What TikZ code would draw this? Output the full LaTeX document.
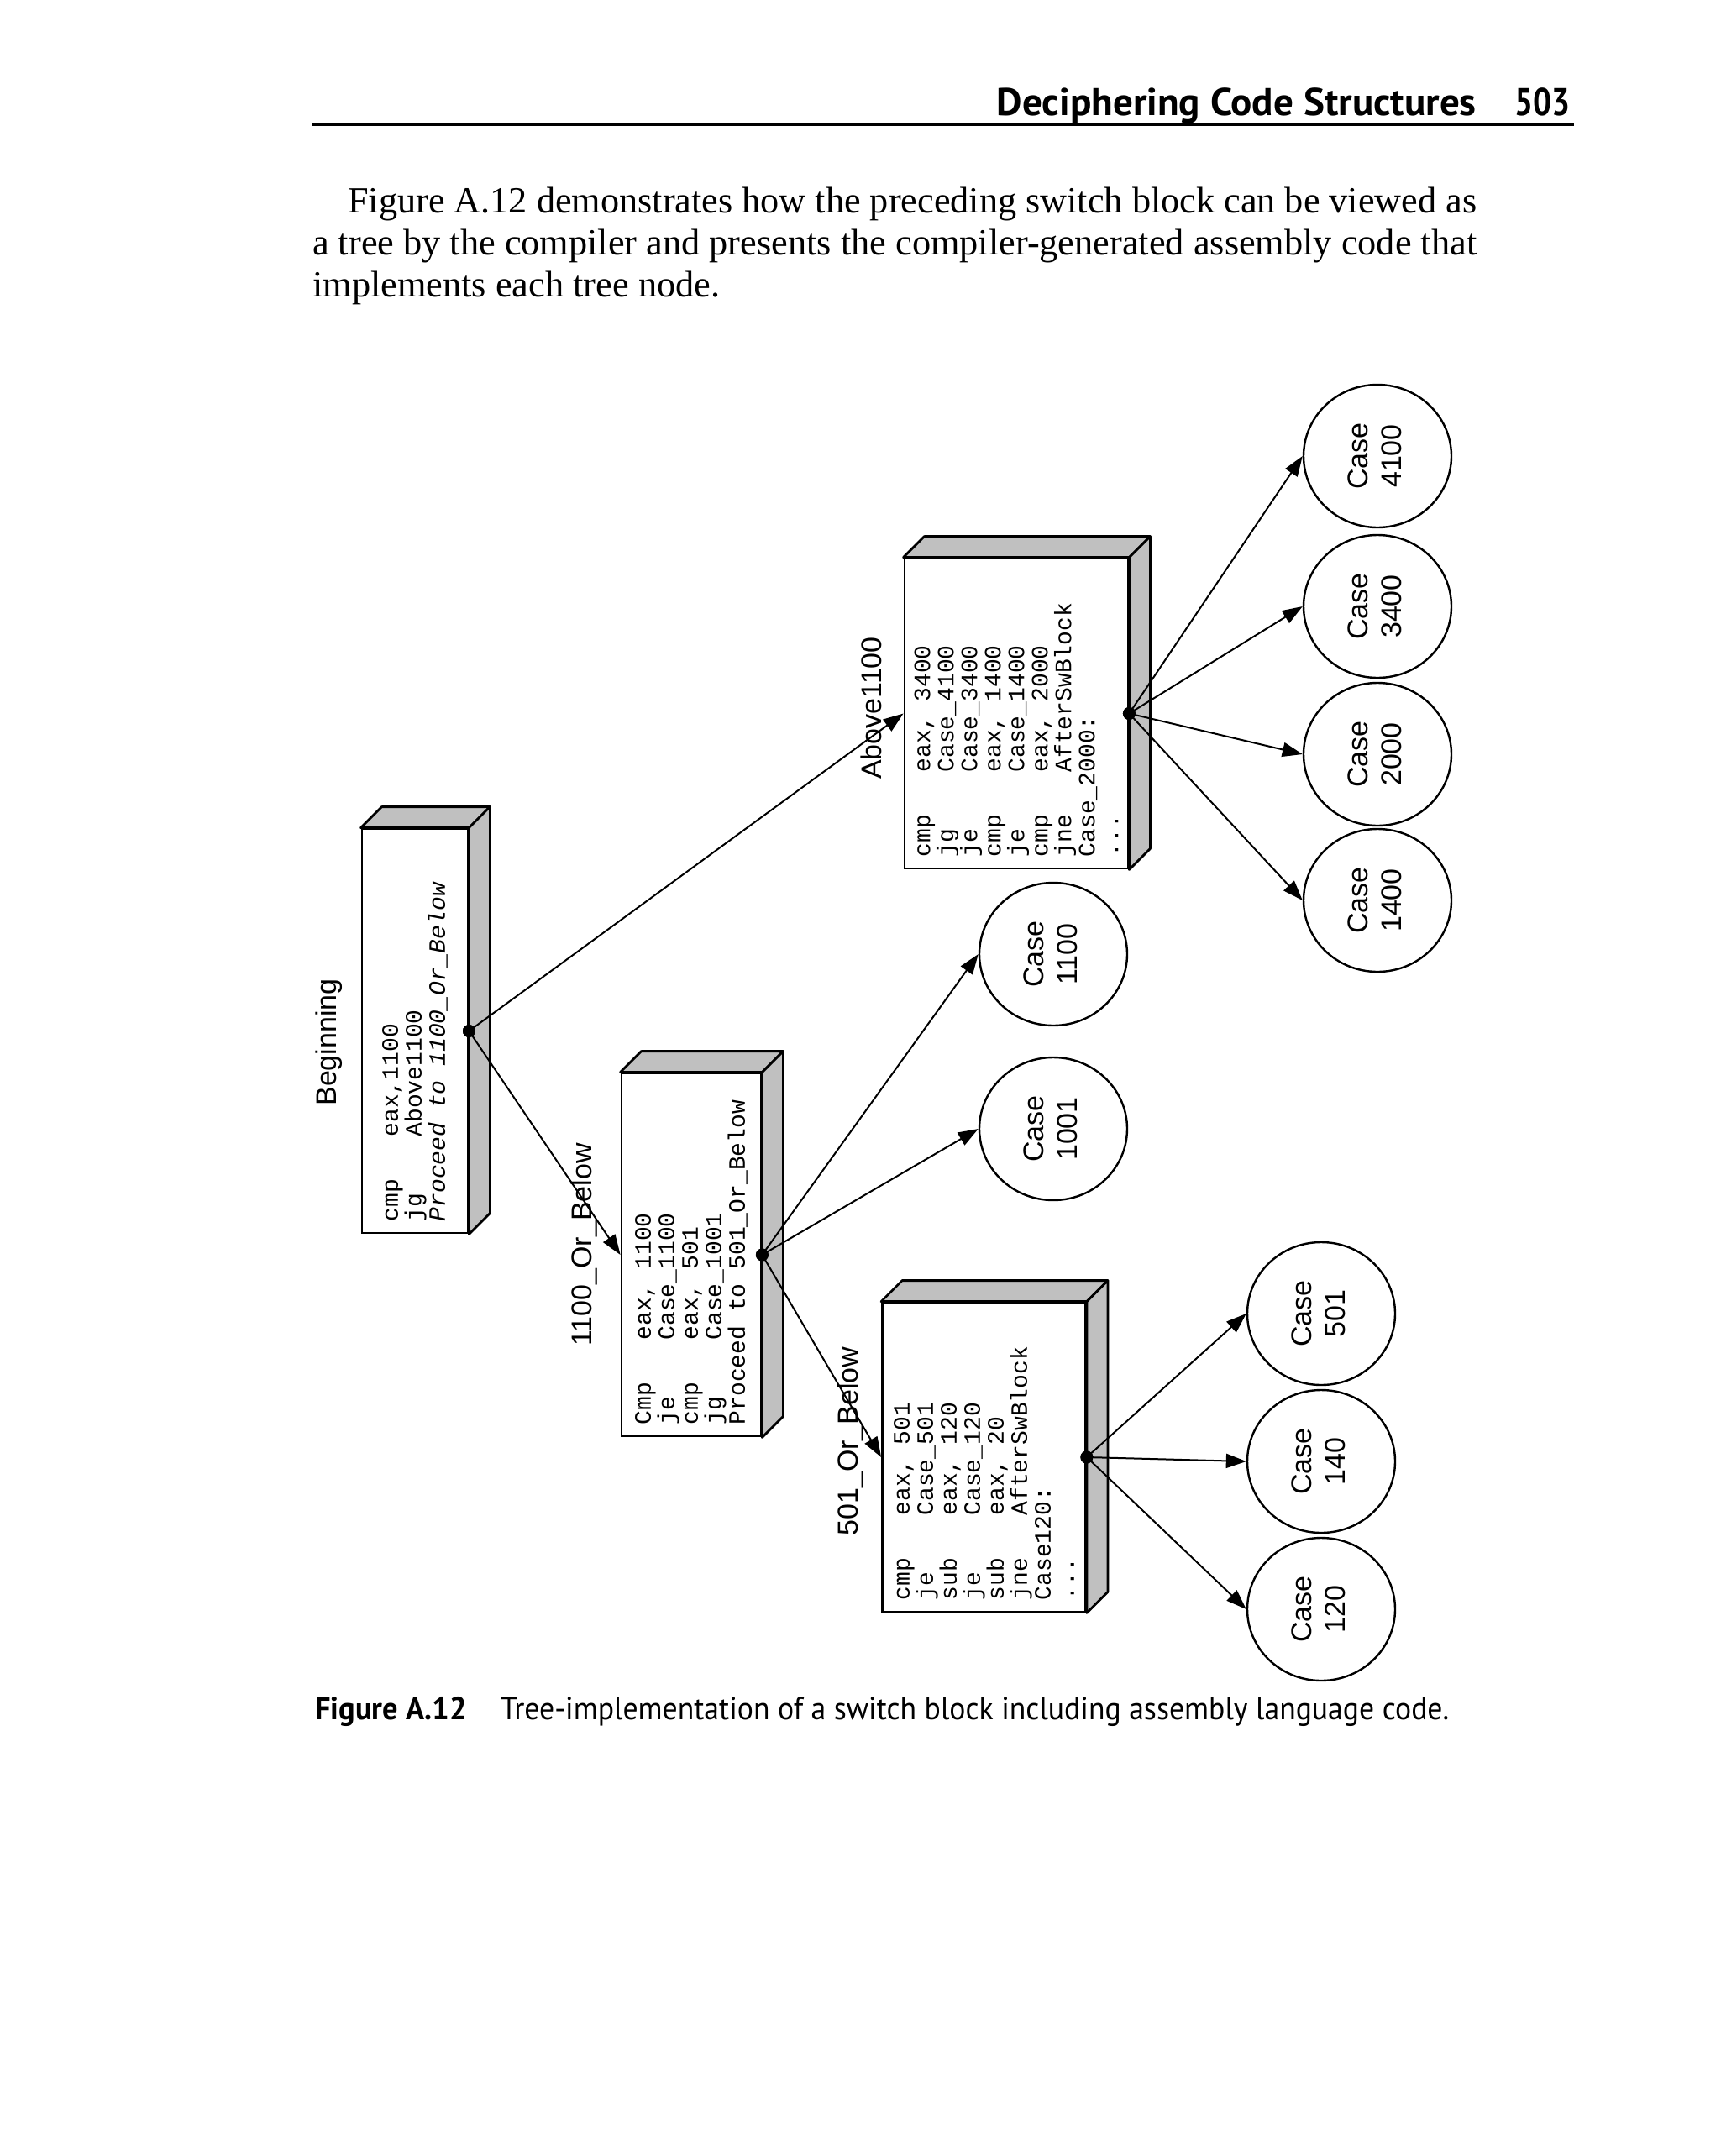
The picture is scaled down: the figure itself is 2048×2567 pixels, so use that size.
\documentclass[tikz,border=0pt]{standalone}
\usepackage{fontspec}
\setmainfont{Liberation Serif}
\setsansfont{Liberation Sans}
\setmonofont{Liberation Mono}
\newfontfamily\capfont{PT Sans}
\usetikzlibrary{arrows.meta,shapes.geometric,calc}
\definecolor{boxgray}{RGB}{192,192,192}
\newcommand\codefont{\fontsize{28}{28}\selectfont\ttfamily}
\newcommand\lblfont{\fontsize{34}{40}\selectfont\sffamily}
\newcommand\bodyfont{\fontsize{44}{50}\selectfont\rmfamily}
\newcommand\headfont{\fontsize{46}{50}\selectfont\capfont\bfseries}
\newcommand\capfontsz{\fontsize{38}{44}\selectfont\capfont}
\newcommand\op[1]{\makebox[3.6em][l]{#1}}
\newcommand\caselabel[1]{\rotatebox{90}{\begin{tabular}{@{}c@{}}Case\\#1\end{tabular}}}
\tikzset{
  face/.style={draw=black, line width=2.8pt, fill=white, inner sep=0pt},
  side/.style={draw=black, line width=2.8pt, fill=boxgray, line join=round},
  code/.style={rotate=90, anchor=west, align=left, inner sep=0pt, font=\codefont},
  lbl/.style={rotate=90, inner sep=0pt, font=\lblfont},
  casenode/.style={ellipse, draw=black, line width=2.4pt, minimum width=176pt, minimum height=170pt, inner sep=0pt, font=\lblfont},
  edge/.style={line width=2pt, -{Triangle[length=24pt,width=17pt]}},
  dot/.style={circle, fill=black, inner sep=0pt, minimum size=15pt},
  pagetext/.style={inner sep=0pt, anchor=base west}
}
\newcommand\mkcube[5]{%
  \node[face, minimum width=#4pt, minimum height=#5pt] (#1) at (#2,#3) {};
  \draw[side] (#1.north west) -- ++(25,-25) -- ($(#1.north east)+(25,-25)$) -- (#1.north east) -- cycle;
  \draw[side] (#1.north east) -- ++(25,-25) -- ($(#1.south east)+(25,-25)$) -- (#1.south east) -- cycle;
  \node[dot] (#1d) at (#1.east) {};
}
\begin{document}
\begin{tikzpicture}[x=1pt,y=-1pt]
\fill[white] (0,0) rectangle (2048,2567);
\useasboundingbox (0,0) rectangle (2048,2567);

% header
\node[pagetext, anchor=base east] (head) at (1758,137) {\resizebox{571pt}{\height}{\headfont Deciphering Code Structures}};
\node[pagetext, anchor=base east] (pnum) at (1870,137) {\resizebox{66pt}{\height}{\headfont 503}};
\draw[line width=3.5pt] (372,148) -- (1874,148);

% paragraph
\node[pagetext] (p1) at (414,253) {\resizebox{1344pt}{\height}{\bodyfont Figure A.12 demonstrates how the preceding switch block can be viewed as}};
\node[pagetext] (p2) at (372,303) {\resizebox{1386pt}{\height}{\bodyfont a tree by the compiler and presents the compiler-generated assembly code that}};
\node[pagetext] (p3) at (372,353) {\resizebox{485pt}{\height}{\bodyfont implements each tree node.}};

% caption
\node[pagetext] (cap1) at (375,2047) {\resizebox{181pt}{\height}{\capfontsz\bfseries Figure A.12}};
\node[pagetext] (cap2) at (596,2047) {\resizebox{1129pt}{\height}{\capfontsz Tree-implementation of a switch block including assembly language code.}};

% boxes
\mkcube{B}{494}{1227.5}{126}{481}
\mkcube{C}{823}{1494}{166}{432}
\mkcube{A}{1210}{849.5}{266}{369}
\mkcube{D}{1171.5}{1735}{242}{368}

% code texts
\node[code] (Bt) at ($(B.south)+(0,-15)$) {\op{cmp}eax,1100\\\op{jg}Above1100\\\textit{Proceed to 1100\_Or\_Below}};
\node[code] (Ct) at ($(C.south)+(0,-15)$) {\op{Cmp}eax, 1100\\\op{je}Case\_1100\\\op{cmp}eax, 501\\\op{jg}Case\_1001\\Proceed to 501\_Or\_Below};
\node[code] (At) at ($(A.south)+(0,-15)$) {\op{cmp}eax, 3400\\\op{jg}Case\_4100\\\op{je}Case\_3400\\\op{cmp}eax, 1400\\\op{je}Case\_1400\\\op{cmp}eax, 2000\\\op{jne}AfterSwBlock\\Case\_2000:\\...};
\node[code] (Dt) at ($(D.south)+(0,-15)$) {\op{cmp}eax, 501\\\op{je}Case\_501\\\op{sub}eax, 120\\\op{je}Case\_120\\\op{sub}eax, 20\\\op{jne}AfterSwBlock\\Case120:\\...};

% box labels
\node[lbl] (Bl) at (392,1241) {Beginning};
\node[lbl] (Cl) at (696,1482) {1100\_Or\_Below};
\node[lbl] (Al) at (1037,843) {Above1100};
\node[lbl] (Dl) at (1013,1716) {501\_Or\_Below};

% case ellipses
\node[casenode] (e4100) at (1640,543) {\caselabel{4100}};
\node[casenode] (e3400) at (1640,722) {\caselabel{3400}};
\node[casenode] (e2000) at (1640,898) {\caselabel{2000}};
\node[casenode] (e1400) at (1640,1072) {\caselabel{1400}};
\node[casenode] (e1100) at (1254,1136) {\caselabel{1100}};
\node[casenode] (e1001) at (1254,1344) {\caselabel{1001}};
\node[casenode] (e501) at (1573,1564) {\caselabel{501}};
\node[casenode] (e140) at (1573,1740) {\caselabel{140}};
\node[casenode] (e120) at (1573,1916) {\caselabel{120}};

% edges
\draw[edge] (Bd.center) -- (A.west);
\draw[edge] (Bd.center) -- (C.west);
\draw[edge] (Cd.center) -- (e1100.west);
\draw[edge] (Cd.center) -- (e1001.west);
\draw[edge] (Cd.center) -- (D.west);
\draw[edge] (Ad.center) -- (e4100.west);
\draw[edge] (Ad.center) -- (e3400.west);
\draw[edge] (Ad.center) -- (e2000.west);
\draw[edge] (Ad.center) -- (e1400.west);
\draw[edge] (Dd.center) -- (e501.west);
\draw[edge] (Dd.center) -- (e140.west);
\draw[edge] (Dd.center) -- (e120.west);

% dots on top
\foreach \n in {B,C,A,D} {\fill (\n.east) circle (7.5pt);}
\end{tikzpicture}
\end{document}
